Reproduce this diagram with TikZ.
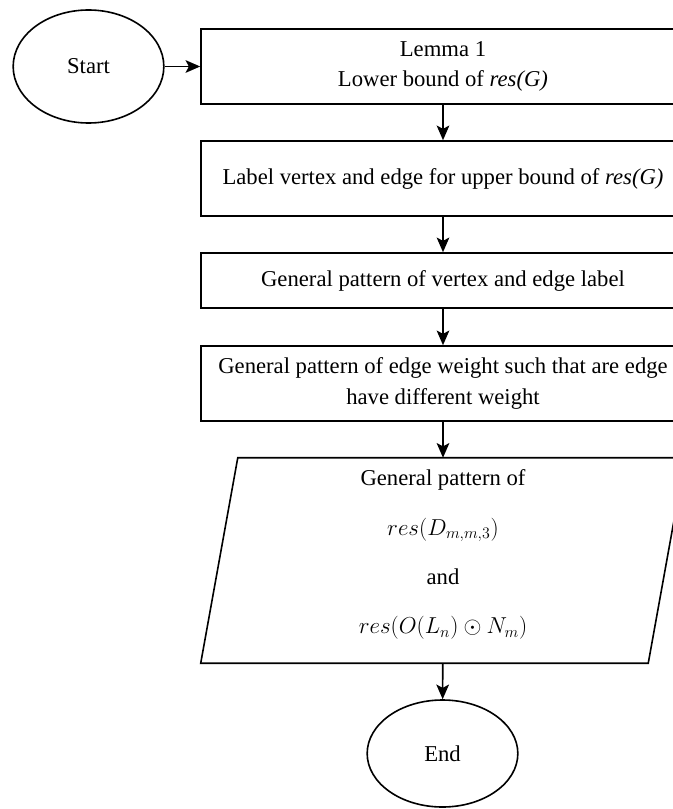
\documentclass[tikz,border=0pt]{standalone}
\usepackage{fontspec}
\setmainfont{Liberation Serif}
\usetikzlibrary{arrows.meta,positioning,shapes.geometric}
\tikzset{
  terminal/.style={draw,ellipse,line width=1.2pt,minimum width=113pt,minimum height=84.75pt,inner sep=0pt,font=\fontsize{17}{20}\selectfont},
  stepbox/.style={draw,rectangle,line width=1.2pt,minimum width=363pt,minimum height=56.25pt,align=center,inner sep=2pt,font=\fontsize{17}{23}\selectfont},
  iobox/.style={rectangle,minimum width=335.25pt,minimum height=153.75pt,align=center,inner sep=0pt,font=\fontsize{17}{20}\selectfont},
  slantline/.style={line width=1.2pt,line join=miter},
  flow/.style={-{Stealth[length=11pt,width=9.5pt,inset=2.5pt]},line width=1.2pt}
}

\begin{document}
\begin{tikzpicture}[x=0.75pt,y=-0.75pt]
  \clip (0,0) rectangle (673,809);
  \node[terminal] (start) at (88.5,66.5) {Start};
  \node[stepbox] (lemma) at (443,66.5) {Lemma 1\\Lower bound of \textit{res(G)}};
  \node[stepbox] (upper) at (443,178.5) {Label vertex and edge for upper bound of \textit{res(G)}};
  \node[stepbox,minimum height=41.25pt] (pattern) at (443,280.5) {General pattern of vertex and edge label};
  \node[stepbox] (weight) at (443,383.5) {General pattern of edge weight such that are edge\\have different weight};
  \node[iobox] (result) at (443,560.5) {General pattern of\\[17pt]$res(D_{m,m,3})$\\[17pt]and\\[17pt]$res(O(L_n)\odot N_m)$\rule[-13pt]{0pt}{0pt}};
  \draw[slantline] ([xshift=-13.9pt]result.south west) -- ([xshift=13.9pt]result.north west)
    -- ([xshift=13.9pt]result.north east) -- ([xshift=-13.9pt]result.south east) -- cycle;
  \node[terminal,minimum height=80.25pt] (end) at (442.5,753.5) {End};
  \draw[flow] (start) -- (lemma);
  \draw[flow] (lemma) -- (upper);
  \draw[flow] (upper) -- (pattern);
  \draw[flow] (pattern) -- (weight);
  \draw[flow] (weight) -- (result);
  \draw[flow] (result) -- (end);
\end{tikzpicture}
\end{document}
